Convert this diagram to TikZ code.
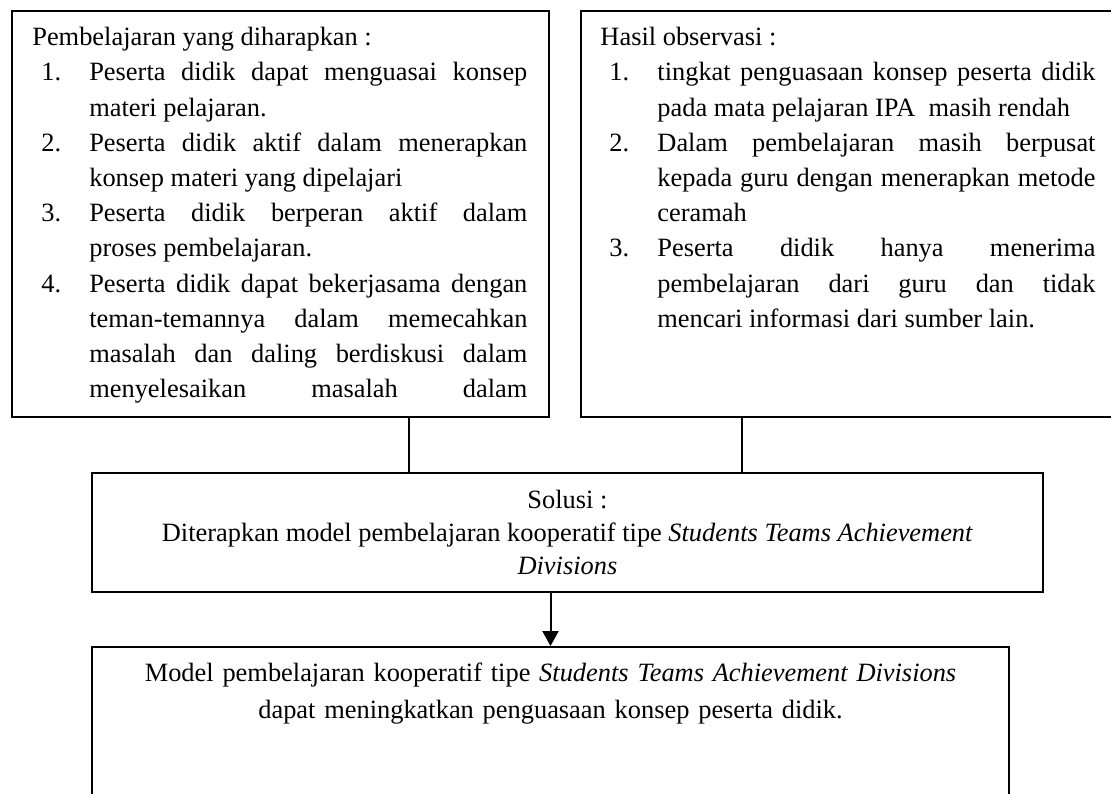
\documentclass[tikz,border=0pt]{standalone}
\usepackage{fontspec}
\setmainfont{Liberation Serif}
\usepackage{tikz}
\usetikzlibrary{arrows.meta,positioning}

% numbered line with hanging indent
\newcommand{\butir}[2]{\par\noindent\hangindent=25.9pt\hangafter=1\hspace*{4.1pt}\makebox[21.8pt][l]{#1}#2\par}

\begin{document}
\begin{tikzpicture}[
  x=0.4545pt, y=-0.4545pt,
  panel/.style={rectangle, draw, line width=0.9pt, inner sep=0pt, anchor=north west},
  isi/.style={inner sep=0pt, text width=225pt, align=justify, font=\fontsize{12}{16}\selectfont},
  garis/.style={line width=0.5pt},
  panah/.style={-{Triangle[length=6.8pt,width=7.3pt]}, line width=0.9pt}
]
\useasboundingbox (0,0) rectangle (1111,794);
\node[panel, minimum width=244.1pt, minimum height=184.5pt] (harapan) at (11,10) {};
\node[panel, minimum width=243.6pt, minimum height=184.5pt] (observasi) at (580,10) {};
\node[panel, minimum width=432.2pt, minimum height=54.1pt, align=center, font=\fontsize{12}{15}\selectfont] (solusi) at (91,472)
  {Solusi :\\Diterapkan model pembelajaran kooperatif tipe \textit{Students Teams Achievement}\\\textit{Divisions}};
\node[panel, minimum width=416.8pt, minimum height=92.7pt] (model) at (91,646) {};

\node[isi, below right=7.7pt and 9.5pt of harapan.north west] (teksharapan) {%
  Pembelajaran yang diharapkan :
  \butir{1.}{Peserta didik dapat menguasai konsep\linebreak materi pelajaran.}
  \butir{2.}{Peserta didik aktif dalam menerapkan\linebreak konsep materi yang dipelajari}
  \butir{3.}{Peserta didik berperan aktif dalam\linebreak proses pembelajaran.}
  \butir{4.}{Peserta didik dapat bekerjasama dengan\linebreak teman-temannya dalam memecahkan\linebreak masalah dan daling berdiskusi dalam\linebreak menyelesaikan masalah dalam\parfillskip=0pt}};
\node[isi, below right=7.7pt and 9.1pt of observasi.north west] (teksobservasi) {%
  Hasil observasi :
  \butir{1.}{tingkat penguasaan konsep peserta didik\linebreak pada mata pelajaran IPA\ \ masih rendah}
  \butir{2.}{Dalam pembelajaran masih berpusat\linebreak kepada guru dengan menerapkan metode\linebreak ceramah}
  \butir{3.}{Peserta didik hanya menerima\linebreak pembelajaran dari guru dan tidak\linebreak mencari informasi dari sumber lain.}};
\node[isi, text width=416.8pt, align=center, font=\fontsize{12}{16.8}\selectfont, below=7.7pt of model.north] (teksmodel)
  {Model pembelajaran kooperatif tipe \textit{Students Teams Achievement Divisions}\\dapat meningkatkan penguasaan konsep peserta didik.};

\draw[garis] (harapan.south -| 409,0) -- (409,0 |- solusi.north);
\draw[garis] (observasi.south -| 742,0) -- (742,0 |- solusi.north);
\draw[panah] (model.north |- solusi.south) -- (model.north);
\end{tikzpicture}
\end{document}
